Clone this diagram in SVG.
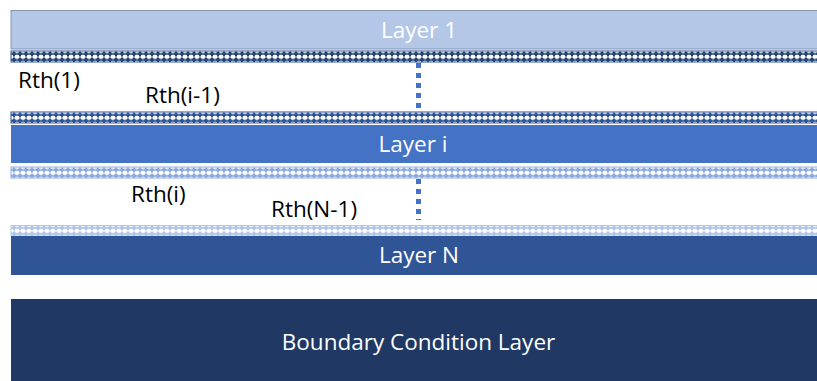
<svg xmlns="http://www.w3.org/2000/svg" width="817" height="381" viewBox="0 0 817 381">
<style>
.lbl{font-family:"Open Sans","Liberation Sans",sans-serif;font-size:22.5px;fill:#ffffff;text-anchor:middle}
.rth{font-family:"Open Sans","Liberation Sans",sans-serif;font-size:22.5px;fill:#000000}
.dot{stroke:#4472C4;stroke-width:5;stroke-dasharray:5 5;fill:none}
</style>
<defs>
<pattern id="p1" x="11" y="51" width="6" height="6" patternUnits="userSpaceOnUse">
<rect width="6" height="6" fill="#ffffff"/>
<path d="M2 0.5h2v1h1.5v2.5h-1.5v1.5h-2v-1.5h-1.5v-2.5h1.5z" fill="#203864"/>
<rect x="0" y="2" width="6" height="2" fill="#2F5597" opacity="0.6"/>
</pattern>
<pattern id="p2" x="11" y="112" width="6" height="6" patternUnits="userSpaceOnUse">
<rect width="6" height="6" fill="#ffffff"/>
<path d="M2 0.5h2v1h1.5v2.5h-1.5v1.5h-2v-1.5h-1.5v-2.5h1.5z" fill="#2F5597"/>
<rect x="0" y="2" width="6" height="2" fill="#2F5597" opacity="0.6"/>
</pattern>
<pattern id="p3" x="11" y="167" width="6" height="6" patternUnits="userSpaceOnUse">
<rect width="6" height="6" fill="#ffffff"/>
<path d="M2 0.5h2v1h1.5v2.5h-1.5v1.5h-2v-1.5h-1.5v-2.5h1.5z" fill="#8FAADC"/>
<rect x="0" y="2" width="6" height="2" fill="#8FAADC" opacity="0.6"/>
</pattern>
<pattern id="p4" x="11" y="225" width="6" height="6" patternUnits="userSpaceOnUse">
<rect width="6" height="6" fill="#ffffff"/>
<path d="M2 0.5h2v1h1.5v2.5h-1.5v1.5h-2v-1.5h-1.5v-2.5h1.5z" fill="#B4C7E7"/>
<rect x="0" y="2" width="6" height="2" fill="#B4C7E7" opacity="0.7"/>
</pattern>
</defs>
<g id="layer1">
<rect x="11" y="10.5" width="810" height="38.5" fill="#B4C7E7" stroke="#8497B0" stroke-width="1"/>
<text class="lbl" x="419" y="38">Layer 1</text>
</g>
<g id="strip1"><rect x="11" y="51" width="810" height="11" fill="url(#p1)" stroke="#2F5597" stroke-width="1"/></g>
<g id="strip2"><rect x="11" y="112" width="810" height="11" fill="url(#p2)" stroke="#2F5597" stroke-width="1"/></g>
<g id="layeri">
<rect x="11" y="125" width="810" height="38" fill="#4472C4"/>
<text class="lbl" x="413" y="152">Layer i</text>
</g>
<g id="strip3"><rect x="11" y="167" width="810" height="11" fill="url(#p3)" stroke="#8FAADC" stroke-width="1"/></g>
<g id="strip4"><rect x="11" y="225.5" width="810" height="10.5" fill="url(#p4)" stroke="#B4C7E7" stroke-width="1"/></g>
<g id="layerN">
<rect x="11" y="236" width="810" height="39" fill="#2F5597"/>
<text class="lbl" x="419" y="263">Layer N</text>
</g>
<g id="boundary">
<rect x="11" y="299" width="810" height="82" fill="#203864"/>
<text class="lbl" x="418.5" y="350">Boundary Condition Layer</text>
</g>
<g id="connectors">
<line class="dot" x1="418.5" y1="63" x2="418.5" y2="108"/>
<line class="dot" x1="418.5" y1="179" x2="418.5" y2="220"/>
</g>
<g id="labels">
<text class="rth" x="18" y="88">Rth(1)</text>
<text class="rth" x="145" y="103">Rth(i-1)</text>
<text class="rth" x="131" y="202">Rth(i)</text>
<text class="rth" x="271" y="217">Rth(N-1)</text>
</g>
</svg>
